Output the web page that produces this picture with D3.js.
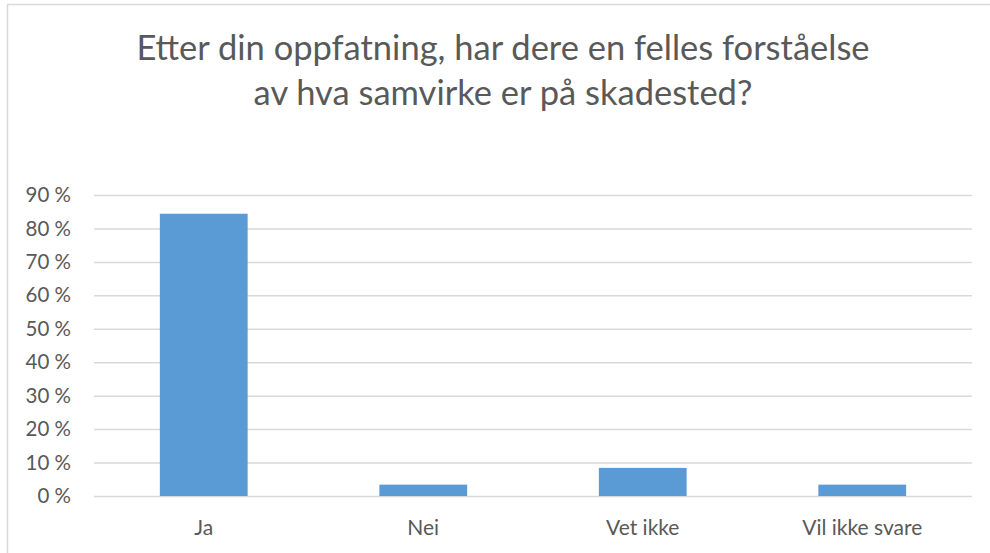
<!DOCTYPE html>
<html>
<head>
<meta charset="utf-8">
<script src="https://cdn.jsdelivr.net/npm/d3@7"></script>
<style>
  body { margin: 0; background: #fff; }
  text { font-family: Lato, "Open Sans", sans-serif; fill: #595959; }
</style>
</head>
<body>
<div id="chart"></div>
<script>
var
  width = 990,
  height = 553;

var categories = ["Ja", "Nei", "Vet ikke", "Vil ikke svare"];
var values = [0.844, 0.034, 0.084, 0.034];
var yTicks = [0, 0.1, 0.2, 0.3, 0.4, 0.5, 0.6, 0.7, 0.8, 0.9];
var titleLines = ["Etter din oppfatning, har dere en felles forståelse", "av hva samvirke er på skadested?"];

var margin = {top: 195, right: 18, bottom: 57, left: 94};

var svg = d3.select("#chart")
  .append("svg")
  .attr("width", width)
  .attr("height", height);

// chart area frame
svg.append("rect")
  .attr("x", 7.5)
  .attr("y", 4.5)
  .attr("width", 1000)
  .attr("height", 600)
  .attr("fill", "none")
  .attr("stroke", "#d9d9d9")
  .attr("stroke-width", 1.5);

svg.selectAll(".title")
  .data(titleLines)
  .enter().append("text")
  .attr("class", "title")
  .attr("x", 503)
  .attr("y", function(d, i) { return 60 + i * 45; })
  .attr("text-anchor", "middle")
  .style("font-size", "34.5px")
  .text(function(d) { return d; });

var x = d3.scaleBand()
  .domain(categories)
  .range([margin.left, width - margin.right])
  .paddingInner(0.6)
  .paddingOuter(0.3);

var y = d3.scaleLinear()
  .domain([0, 0.9])
  .range([height - margin.bottom, margin.top]);

var fmt = function(d) { return Math.round(d * 100) + "\u00a0%"; };

var yAxis = svg.append("g")
  .attr("transform", "translate(" + margin.left + ",0)")
  .call(d3.axisLeft(y)
    .tickValues(yTicks)
    .tickFormat(fmt)
    .tickSize(-(width - margin.left - margin.right))
    .tickPadding(23));

yAxis.select(".domain").remove();
yAxis.selectAll("line").attr("stroke", "#d9d9d9").attr("stroke-width", 1.5);
yAxis.selectAll("text")
  .style("font-size", "20.5px")
  .attr("fill", "#595959");

svg.selectAll(".bar")
  .data(values)
  .enter().append("rect")
  .attr("class", "bar")
  .attr("x", function(d, i) { return x(categories[i]); })
  .attr("width", x.bandwidth())
  .attr("y", function(d) { return y(d); })
  .attr("height", function(d) { return y(0) - y(d); })
  .attr("fill", "#5b9bd5");

var xAxis = svg.append("g")
  .attr("transform", "translate(0," + (height - margin.bottom) + ")")
  .call(d3.axisBottom(x).tickSize(0).tickPadding(24));

xAxis.select(".domain").remove();
xAxis.selectAll("text")
  .style("font-size", "21px")
  .attr("fill", "#595959");
</script>
</body>
</html>
